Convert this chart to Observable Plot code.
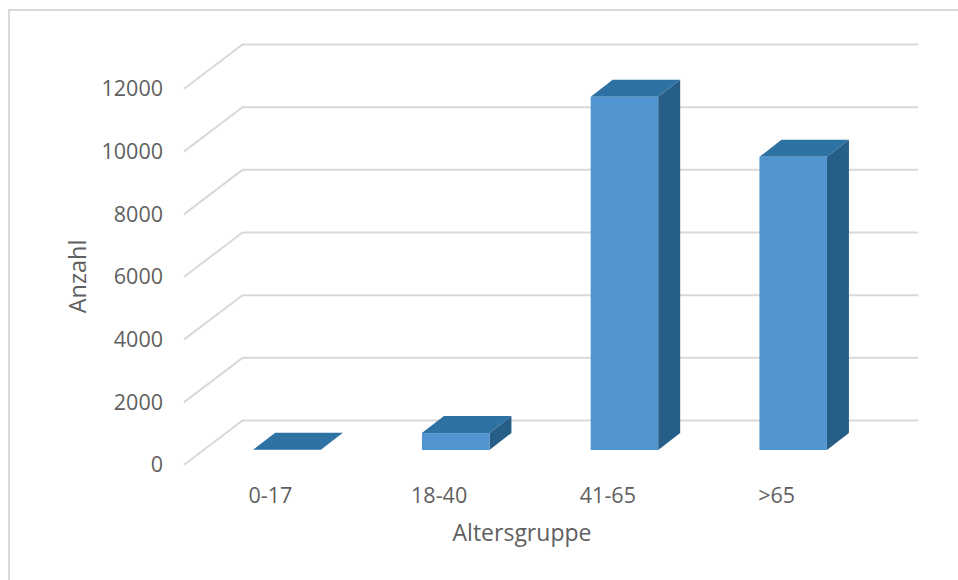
<!DOCTYPE html>
<html>
<head>
<meta charset="utf-8">
<script src="https://cdn.jsdelivr.net/npm/d3@7"></script>
<script src="https://cdn.jsdelivr.net/npm/@observablehq/plot@0.6"></script>
<style>
html, body { margin: 0; padding: 0; background: #fff; overflow: hidden; }
#wrap { position: relative; width: 958px; height: 580px; }
#edge { position: absolute; left: 7.5px; top: 8.5px; right: 0; bottom: 0; border-left: 2.5px solid #d9d9d9; border-top: 2.5px solid #d9d9d9; }
#chart { position: absolute; left: 0; top: 0; }
svg { overflow: visible; }
</style>
</head>
<body>
<div id="wrap"><div id="edge"></div><div id="chart"></div></div>
<script>
const categories = ["0-17", "18-40", "41-65", ">65"];
const values = [10, 540, 11270, 9355];
const yTicks = [0, 2000, 4000, 6000, 8000, 10000, 12000];
const xTitle = "Altersgruppe";
const yTitle = "Anzahl";

// depth of the fake 3D box, in scale units
const wallDepthX = 58 / 168.75, wallDepthY = 1404;
const barDepthX = 22 / 168.75, barDepthY = 543, barLift = 447;
const barStart = 0.41, barWidth = 0.4;

const left = (i) => i + barStart, right = (i) => i + barStart + barWidth;

const walls = yTicks.flatMap((v) => [
  {v, x: 0, y: v},
  {v, x: wallDepthX, y: v + wallDepthY},
  {v, x: 4 + wallDepthX, y: v + wallDepthY}
]);

const bars = values.map((v, i) => ({i, v, base: barLift, top: barLift + v}));

const front = bars;
const side = bars.flatMap((b) => [
  {i: b.i, x: right(b.i), y1: b.base, y2: b.top},
  {i: b.i, x: right(b.i) + barDepthX, y1: b.base + barDepthY, y2: b.top + barDepthY}
]);
const topFace = bars.flatMap((b) => [
  {i: b.i, x: left(b.i), y1: b.top, y2: b.top},
  {i: b.i, x: left(b.i) + barDepthX, y1: b.top, y2: b.top + barDepthY},
  {i: b.i, x: right(b.i), y1: b.top, y2: b.top + barDepthY},
  {i: b.i, x: right(b.i) + barDepthX, y1: b.top + barDepthY, y2: b.top + barDepthY}
]);

const textColor = "#5f5f5f";
const font = "'Open Sans', sans-serif";

const chart = Plot.plot({
  width: 958,
  height: 580,
  marginLeft: 184,
  marginRight: 99,
  marginTop: 88,
  marginBottom: 116,
  style: {background: "transparent", fontFamily: font, fontSize: "21px", color: textColor},
  x: {domain: [0, 4]},
  y: {domain: [0, 12000]},
  marks: [
    Plot.line(walls, {x: "x", y: "y", z: "v", stroke: "#d9d9d9", strokeWidth: 2}),
    Plot.area(side, {x1: "x", y1: "y1", y2: "y2", z: "i", fill: "#265e88"}),
    Plot.area(topFace, {x1: "x", y1: "y1", y2: "y2", z: "i", fill: "#2e71a3"}),
    Plot.rect(front, {x1: (d) => left(d.i), x2: (d) => right(d.i), y1: "base", y2: "top", fill: "#5094d0"}),
    Plot.axisY({ticks: yTicks, tickSize: 0, tickPadding: 21.5, label: null, fontSize: 21.5, fill: textColor, dy: 1, tickFormat: (d) => String(d)}),
    Plot.axisX({ticks: categories.map((c, i) => i + 0.5), tickFormat: (d) => categories[d - 0.5], tickSize: 0, tickPadding: 23, label: null, fontSize: 21.5, fill: textColor, dx: 1.5}),
    Plot.text([xTitle], {x: () => 2, frameAnchor: "bottom", dy: 76, text: (d) => d, fontSize: 23, fill: textColor}),
    Plot.text([yTitle], {frameAnchor: "left", dx: -106, rotate: -90, textAnchor: "middle", text: (d) => d, fontSize: 23.5, fill: textColor})
  ]
});
document.getElementById("chart").append(chart);
</script>
</body>
</html>
